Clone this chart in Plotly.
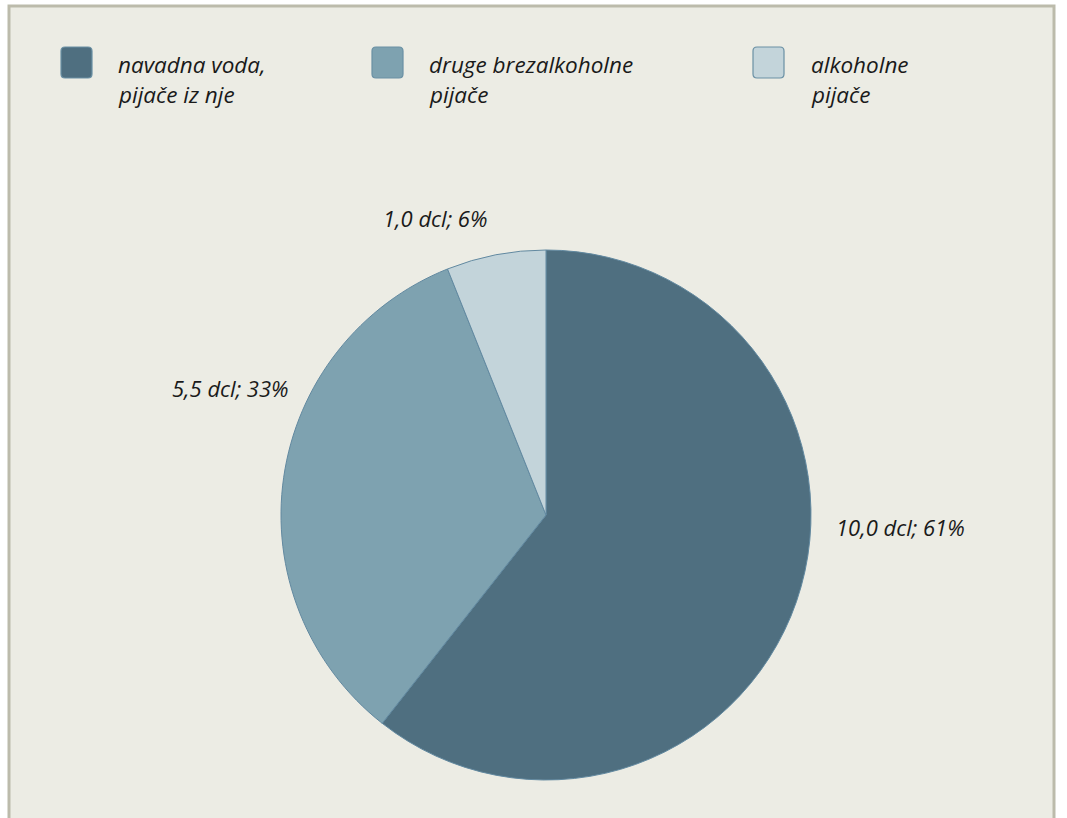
import plotly.graph_objects as go

W, H = 1067, 818

# Daily fluid intake by drink type (dcl)
categories = ["navadna voda, pijače iz nje", "druge brezalkoholne pijače", "alkoholne pijače"]
legend_lines = [["navadna voda,", "pijače iz nje"], ["druge brezalkoholne", "pijače"], ["alkoholne", "pijače"]]
values_dcl = [10.0, 5.5, 1.0]
colors = ["#4f6f80", "#7ea2b0", "#c3d4da"]

FONT = "Open Sans"
TEXT_COLOR = "#1a1a1a"


def px(x):
    return x / W


def py(y):
    return 1 - y / H


total = sum(values_dcl)
shares = [round(v / total * 100) for v in values_dcl]
label_text = [f"{v:.1f}".replace(".", ",") + f" dcl; {s}%" for v, s in zip(values_dcl, shares)]

cx, cy, r = 546, 515, 265

fig = go.Figure(
    go.Pie(
        labels=categories,
        values=values_dcl,
        sort=False,
        direction="clockwise",
        rotation=0,
        marker=dict(colors=colors, line=dict(color="#6289a0", width=1)),
        textinfo="none",
        hoverinfo="label+value+percent",
        showlegend=False,
        domain=dict(x=[px(cx - r), px(cx + r)], y=[py(cy + r), py(cy - r)]),
    )
)

shapes = [
    # framed panel
    dict(type="rect", xref="paper", yref="paper",
         x0=px(9), x1=px(1054), y0=py(830), y1=py(6),
         fillcolor="#ecece4", line=dict(color="#bcbbab", width=3), layer="below"),
]

annotations = []

# legend swatches and labels
swatch_x = [61, 372, 753]
text_x = [116, 427, 809]
for i in range(3):
    x0, y0, s, rr = swatch_x[i], 47, 31, 4
    x1, y1 = x0 + s, y0 + s
    path = (
        f"M {px(x0 + rr)} {py(y0)} L {px(x1 - rr)} {py(y0)} "
        f"Q {px(x1)} {py(y0)} {px(x1)} {py(y0 + rr)} L {px(x1)} {py(y1 - rr)} "
        f"Q {px(x1)} {py(y1)} {px(x1 - rr)} {py(y1)} L {px(x0 + rr)} {py(y1)} "
        f"Q {px(x0)} {py(y1)} {px(x0)} {py(y1 - rr)} L {px(x0)} {py(y0 + rr)} "
        f"Q {px(x0)} {py(y0)} {px(x0 + rr)} {py(y0)} Z"
    )
    shapes.append(dict(type="path", xref="paper", yref="paper", path=path,
                       fillcolor=colors[i], line=dict(color="#6a90a4", width=1.2)))
    for j, line in enumerate(legend_lines[i]):
        annotations.append(dict(
            xref="paper", yref="paper", x=px(text_x[i]), y=py(64 + j * 31),
            xanchor="left", yanchor="middle", showarrow=False,
            text=f"<i>{line}</i>", font=dict(family=FONT, size=22.5, color=TEXT_COLOR)))

# slice value labels
label_pos = [(834, 527, "left"), (291, 388, "right"), (489, 218, "right")]
for (x, y, anchor), t in zip(label_pos, label_text):
    annotations.append(dict(
        xref="paper", yref="paper", x=px(x), y=py(y),
        xanchor=anchor, yanchor="middle", showarrow=False,
        text=f"<i>{t}</i>", font=dict(family=FONT, size=22, color=TEXT_COLOR)))

fig.update_layout(
    width=W, height=H,
    margin=dict(l=0, r=0, t=0, b=0),
    paper_bgcolor="#ffffff",
    plot_bgcolor="#ffffff",
    shapes=shapes,
    annotations=annotations,
)

fig.write_html("out.html")
